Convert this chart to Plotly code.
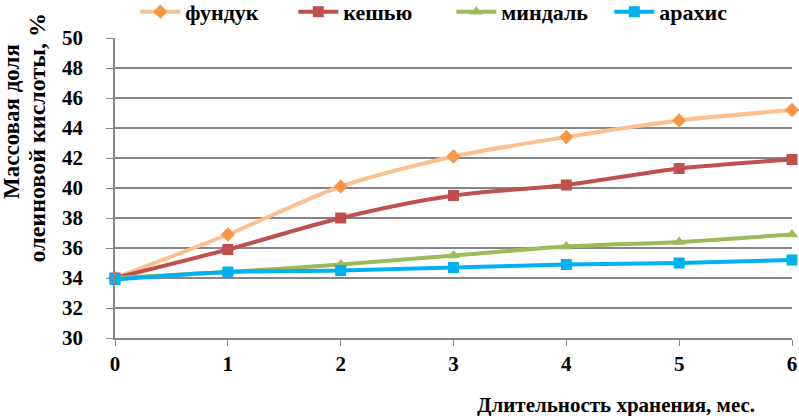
import plotly.graph_objects as go

months = [0, 1, 2, 3, 4, 5, 6]
hazelnut = [34.0, 36.9, 40.1, 42.1, 43.4, 44.5, 45.2]
cashew = [34.0, 35.9, 38.0, 39.5, 40.2, 41.3, 41.9]
almond = [34.0, 34.4, 34.9, 35.5, 36.1, 36.4, 36.9]
peanut = [33.9, 34.4, 34.5, 34.7, 34.9, 35.0, 35.2]
names = ["фундук", "кешью", "миндаль", "арахис"]
y_ticks = [30, 32, 34, 36, 38, 40, 42, 44, 46, 48, 50]

FONT = "Liberation Serif"
series = [
    (names[0], hazelnut, "#FAC090", "#F79646", "diamond", 11),
    (names[1], cashew, "#C0504D", "#C0504D", "square", 11),
    (names[2], almond, "#9BBB59", "#9BBB59", "triangle-up", 11),
    (names[3], peanut, "#00B0F0", "#00B0F0", "square", 11),
]

fig = go.Figure()
for name, vals, lc, mc, sym, ms in series:
    fig.add_trace(go.Scatter(
        x=months, y=vals, name=name, mode="lines+markers",
        line=dict(color=lc, width=4, shape="spline", smoothing=0.8),
        marker=dict(color=mc, symbol=sym, size=ms),
        cliponaxis=False,
    ))

tickfont = dict(family=FONT, size=21, color="black", weight="bold")
fig.update_layout(
    width=799, height=416,
    margin=dict(l=115, r=7, t=38, b=78, autoexpand=False),
    paper_bgcolor="white", plot_bgcolor="white",
    font=dict(family=FONT, size=21, color="black"),
    showlegend=True,
    legend=dict(orientation="h", x=0.03, y=1.087, xanchor="left", yanchor="middle",
                font=dict(family=FONT, size=22, color="black", weight="bold"),
                itemwidth=40, tracegroupgap=0, entrywidth=103, entrywidthmode="pixels"),
    xaxis=dict(range=[0, 6], tickvals=months, showgrid=False, zeroline=False,
               showline=True, linecolor="#868686", linewidth=1.5,
               ticks="outside", ticklen=6, tickcolor="#868686", ticklabelstandoff=0,
               tickfont=tickfont, automargin=False),
    yaxis=dict(range=[30, 50], tickvals=y_ticks, showgrid=True, gridcolor="#868686",
               gridwidth=1.5, zeroline=False, showline=True, linecolor="#868686",
               linewidth=1.5, ticks="outside", ticklen=7, tickcolor="#868686",
               ticklabelstandoff=19, tickfont=tickfont, automargin=False),
)

fig.add_annotation(text="<b>Массовая доля</b>", xref="paper", yref="paper",
                   x=(11 - 115) / 677, y=0.72, xanchor="center", yanchor="middle",
                   textangle=-90, showarrow=False,
                   font=dict(family=FONT, size=23, color="black"))
fig.add_annotation(text="<b>олеиновой кислоты, %</b>", xref="paper", yref="paper",
                   x=(36 - 115) / 677, y=0.665, xanchor="center", yanchor="middle",
                   textangle=-90, showarrow=False,
                   font=dict(family=FONT, size=24, color="black"))
fig.add_annotation(text="<b>Длительность хранения, мес.</b>", xref="paper", yref="paper",
                   x=(757 - 115) / 677, y=-0.223, xanchor="right", yanchor="middle", showarrow=False,
                   font=dict(family=FONT, size=21, color="black"))

fig.write_html("out.html", config={"displayModeBar": False},
               post_script="document.body.style.margin='0';")
